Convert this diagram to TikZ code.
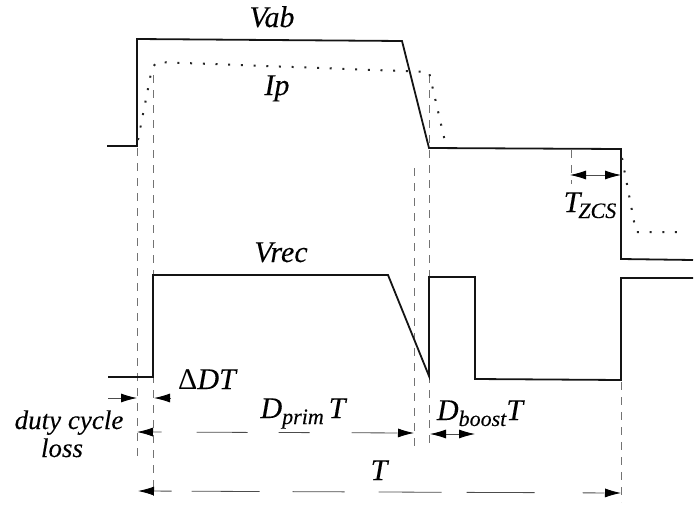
\documentclass[tikz,border=0pt]{standalone}
\usepackage{fontspec}
\setmainfont[ItalicFeatures={FakeBold=0.15}]{Liberation Serif}
\usetikzlibrary{arrows.meta}
\newcommand{\lowsub}[1]{\raisebox{-6pt}{\fontsize{22}{23}\selectfont #1}}
\tikzset{
  wave/.style={line width=1.8pt,black!92,line join=miter},
  dots/.style={line width=2pt,black!85,dash pattern=on 2pt off 10.7pt},
  guide/.style={line width=0.8pt,black!55,dash pattern=on 8pt off 7pt},
  dim/.style={line width=0.8pt,black!70,{Latex[length=16pt,width=9pt,black]}-{Latex[length=16pt,width=9pt,black]}},
  oneway/.style={line width=0.8pt,black!70,{Latex[length=16pt,width=9pt,black]}-},
  dimbrokenA/.style={dim,dash pattern=on 9pt off 35pt on 51pt off 31pt on 31pt off 42pt on 46pt},
  dimbrokenB/.style={dim,dash pattern=on 18pt off 20pt on 68pt off 33pt on 52pt off 34pt on 63pt off 25pt on 68pt off 48pt on 22pt},
  lbl/.style={font=\itshape\fontsize{30}{31}\selectfont,inner sep=0pt,text=black,anchor=base},
  lblsmall/.style={lbl,font=\itshape\fontsize{27}{28}\selectfont}
}
\begin{document}
\begin{tikzpicture}[x=1pt,y=-1pt]
\useasboundingbox (0,0) rectangle (697,504);
% waveform corner points
\coordinate (a0) at (107,146); \coordinate (a1) at (137,146); \coordinate (a2) at (137,39);
\coordinate (a3) at (402,41);  \coordinate (a4) at (429,148); \coordinate (a5) at (621,149);
\coordinate (a6) at (621,259); \coordinate (a7) at (693,260);
\coordinate (i1) at (138,140); \coordinate (i2) at (152,68); \coordinate (i3) at (157,62);
\coordinate (i4) at (429,72); \coordinate (i5) at (446,146);
\coordinate (i6) at (622,158); \coordinate (i7) at (636,232); \coordinate (i8) at (684,232);
\coordinate (r0) at (108,377); \coordinate (r1) at (153,377); \coordinate (r2) at (153,275);
\coordinate (r3) at (388,275); \coordinate (r4) at (429,376); \coordinate (r5) at (429,277);
\coordinate (r6) at (475,277); \coordinate (r7) at (475,379); \coordinate (r8) at (621,380);
\coordinate (r9) at (621,278); \coordinate (r10) at (693,278);
% guide ends
\coordinate (g1t) at (137,148); \coordinate (g1b) at (137,456);
\coordinate (g2t) at (153,75);  \coordinate (g2b) at (153,496);
\coordinate (g3t) at (414,168); \coordinate (g3b) at (414,449);
\coordinate (g4t) at (429,75);  \coordinate (g4b) at (429,444);
\coordinate (g5t) at (621,382); \coordinate (g5b) at (621,502);
\coordinate (g6t) at (571,150); \coordinate (g6b) at (571,184);
% dimension ends
\coordinate (d1a) at (108,398); \coordinate (d1b) at (137,398);
\coordinate (d2a) at (171,398); \coordinate (d2b) at (154,398);
\coordinate (d3a) at (137,432); \coordinate (d3b) at (414,433);
\coordinate (d4a) at (430,434); \coordinate (d4b) at (475,434);
\coordinate (d5a) at (138,491); \coordinate (d5b) at (621,493);
\coordinate (d6a) at (570,175); \coordinate (d6b) at (621,175);

\draw[guide] (g1t) -- (g1b);
\draw[guide] (g2t) -- (g2b);
\draw[guide] (g3t) -- (g3b);
\draw[guide] (g4t) -- (g4b);
\draw[guide] (g5t) -- (g5b);
\draw[guide] (g6t) -- (g6b);

\draw[wave] (a0) -- (a1) -- (a2) -- (a3) -- (a4) -- (a5) -- (a6) -- (a7);
\draw[wave] (r0) -- (r1) -- (r2) -- (r3) -- (r4) -- (r5) -- (r6) -- (r7) -- (r8) -- (r9) -- (r10);
\draw[dots] (i1) -- (i2) -- (i3) -- (i4) -- (i5);
\draw[dots] (i6) -- (i7) -- (i8);

\draw[oneway] (d1b) -- (d1a);
\draw[oneway] (d2b) -- (d2a);
\draw[dimbrokenA] (d3a) -- (d3b);
\draw[dim] (d4a) -- (d4b);
\draw[dimbrokenB] (d5a) -- (d5b);
\draw[dim] (d6a) -- (d6b);

\node[lbl] (vab) at (272,27) {Vab};
\node[lbl] (ip) at (277,95) {Ip};
\node[lbl] (vrec) at (281,262) {Vrec};
\node[lbl] (tzcs) at (590,212) {T\kern-2pt\lowsub{ZCS}};
\node[lbl] (ddt) at (207,389) {{\upshape Δ}DT};
\node[lbl] (dprim) at (303,418) {D\lowsub{prim}\,T};
\node[lbl] (dboost) at (480,420) {D\lowsub{boost}T};
\node[lbl] (tt) at (379,480) {T};
\node[lblsmall] (dc) at (69,429) {duty cycle};
\node[lblsmall] (ls) at (62,457) {loss};
\end{tikzpicture}
\end{document}
